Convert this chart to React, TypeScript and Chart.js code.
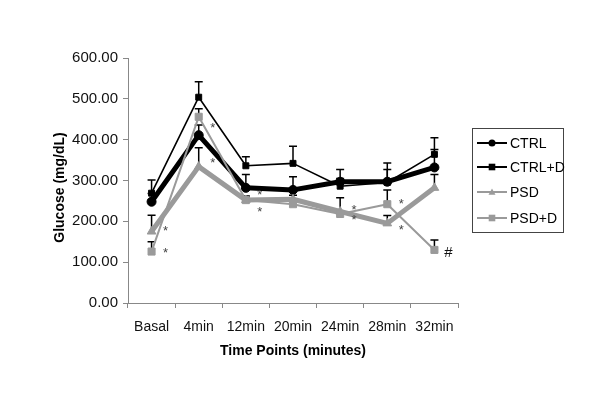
import React, { useEffect, useRef } from 'react';
import { Chart, registerables } from 'chart.js';

Chart.register(...registerables);

const categories = ['Basal', '4min', '12min', '20min', '24min', '28min', '32min'];

const ctrl = [248, 411, 282, 277, 297, 297, 332];
const ctrlErr = [20, 25, 33, 32, 8, 30, 44];
const ctrlD = [269, 504, 336, 342, 286, 295, 364];
const ctrlDErr = [32, 38, 22, 42, 41, 48, 41];
const psd = [175, 334, 252, 254, 224, 195, 282];
const psdErr = [40, 46, 10, 10, 34, 19, 33];
const psdD = [126, 456, 252, 242, 218, 242, 130];
const psdDErr = [24, 20, 8, 8, 8, 35, 24];

const yTicks = [0, 100, 200, 300, 400, 500, 600];

const markCategories = ['Basal', 'Basal', '4min', '4min', '12min', '12min', '24min', '24min', '28min', '28min', '32min'];
const markValues = [184, 132, 438, 350, 272, 230, 235, 211, 250, 186, 125];
const markTexts = ['*', '*', '*', '*', '*', '*', '*', '*', '*', '*', '#'];

const FONT = "Arial, 'Liberation Sans', sans-serif";
const GRAY = '#9a9a9a';

type Series = {
  label: string;
  data: number[];
  err: number[];
  color: string;
  width: number;
  style: 'circle' | 'rect' | 'triangle';
  radius: number;
};

const series: Series[] = [
  { label: 'CTRL', data: ctrl, err: ctrlErr, color: '#000000', width: 5, style: 'circle', radius: 4.5 },
  { label: 'CTRL+D', data: ctrlD, err: ctrlDErr, color: '#000000', width: 1.6, style: 'rect', radius: 4.2 },
  { label: 'PSD', data: psd, err: psdErr, color: GRAY, width: 5, style: 'triangle', radius: 5 },
  { label: 'PSD+D', data: psdD, err: psdDErr, color: GRAY, width: 2, style: 'rect', radius: 5 },
];

function drawMarker(ctx: CanvasRenderingContext2D, style: string, x: number, y: number, r: number, color: string) {
  ctx.save();
  ctx.fillStyle = color;
  ctx.beginPath();
  if (style === 'circle') {
    ctx.arc(x, y, r, 0, Math.PI * 2);
  } else if (style === 'rect') {
    ctx.rect(x - r, y - r, 2 * r, 2 * r);
  } else {
    ctx.moveTo(x, y - r);
    ctx.lineTo(x + r, y + r * 0.8);
    ctx.lineTo(x - r, y + r * 0.8);
    ctx.closePath();
  }
  ctx.fill();
  ctx.restore();
}

const extrasPlugin = {
  id: 'extras',
  beforeDatasetsDraw(chart: any) {
    const ctx: CanvasRenderingContext2D = chart.ctx;
    const xs = chart.scales.x;
    const ys = chart.scales.y;
    ctx.save();
    ctx.strokeStyle = '#000';
    ctx.lineWidth = 1.5;
    series.forEach((s) => {
      s.data.forEach((v, i) => {
        const x = xs.getPixelForValue(i);
        const y0 = ys.getPixelForValue(v);
        const y1 = ys.getPixelForValue(v + s.err[i]);
        ctx.beginPath();
        ctx.moveTo(x, y0);
        ctx.lineTo(x, y1);
        ctx.moveTo(x - 4, y1);
        ctx.lineTo(x + 4, y1);
        ctx.stroke();
      });
    });
    ctx.restore();
  },
  afterDraw(chart: any) {
    const ctx: CanvasRenderingContext2D = chart.ctx;
    const xs = chart.scales.x;
    const ys = chart.scales.y;
    const area = chart.chartArea;

    // significance marks
    ctx.save();
    markTexts.forEach((t, i) => {
      const idx = categories.indexOf(markCategories[i]);
      const x = xs.getPixelForValue(idx) + 14;
      const y = ys.getPixelForValue(markValues[i]);
      const size = t === '*' ? 13 : 15;
      ctx.font = `${size}px ${FONT}`;
      ctx.fillStyle = t === '*' ? '#444' : '#111';
      ctx.textAlign = 'center';
      ctx.textBaseline = 'alphabetic';
      ctx.fillText(t, x, y + (t === '*' ? 0.57 : 0.36) * size);
    });
    ctx.restore();

    // y-axis title
    ctx.save();
    ctx.translate(60, (area.top + area.bottom) / 2 + 7);
    ctx.rotate(-Math.PI / 2);
    ctx.font = `bold 14px ${FONT}`;
    ctx.fillStyle = '#000';
    ctx.textAlign = 'center';
    ctx.textBaseline = 'middle';
    ctx.fillText('Glucose (mg/dL)', 0, 0);
    ctx.restore();

    // legend
    const lx = 472;
    const ly = 128;
    const lw = 91;
    const lh = 104;
    ctx.save();
    ctx.strokeStyle = '#444';
    ctx.lineWidth = 1;
    ctx.strokeRect(lx + 0.5, ly + 0.5, lw, lh);
    const rowY = [143, 167, 192, 218];
    series.forEach((s, i) => {
      const y = rowY[i];
      ctx.strokeStyle = s.color;
      ctx.lineWidth = 2;
      ctx.beginPath();
      ctx.moveTo(477, y);
      ctx.lineTo(507, y);
      ctx.stroke();
      drawMarker(ctx, s.style, 492, y, s.style === 'rect' ? 3.3 : 3.5, s.color);
      ctx.font = `14px ${FONT}`;
      ctx.fillStyle = '#000';
      ctx.textAlign = 'left';
      ctx.textBaseline = 'middle';
      ctx.fillText(s.label, 510, y + 1);
    });
    ctx.restore();
  },
};

export default function App() {
  const ref = useRef<HTMLCanvasElement>(null);

  useEffect(() => {
    const canvas = ref.current;
    if (!canvas) return;
    const n = series.length;
    const chart = new Chart(canvas, {
      type: 'line',
      data: {
        labels: categories,
        datasets: series.map((s, i) => ({
          label: s.label,
          data: s.data,
          borderColor: s.color,
          backgroundColor: s.color,
          borderWidth: s.width,
          borderJoinStyle: 'round' as const,
          pointStyle: s.style,
          pointRadius: s.radius,
          pointBackgroundColor: s.color,
          pointBorderColor: s.color,
          pointBorderWidth: 1,
          tension: 0,
          fill: false,
          order: n - i,
        })),
      },
      options: {
        responsive: false,
        animation: false,
        events: [],
        layout: { padding: { top: 58, right: 142, left: 0, bottom: 0 } },
        plugins: {
          legend: { display: false },
          tooltip: { enabled: false },
          title: { display: false },
        },
        scales: {
          x: {
            type: 'category',
            offset: true,
            grid: {
              offset: true,
              drawOnChartArea: false,
              drawTicks: true,
              tickLength: 5,
              color: '#888',
            },
            border: { display: true, color: '#888', width: 1 },
            ticks: {
              font: { family: FONT, size: 14 },
              color: '#111',
              padding: 11,
              maxRotation: 0,
              autoSkip: false,
            },
            title: {
              display: true,
              text: 'Time Points (minutes)',
              font: { family: FONT, size: 14, weight: 'bold' },
              color: '#000',
              padding: { top: 0, bottom: 44 },
            },
            afterFit: (scale: any) => {
              scale.height = 101;
            },
          },
          y: {
            type: 'linear',
            min: yTicks[0],
            max: yTicks[yTicks.length - 1],
            afterBuildTicks: (scale: any) => {
              scale.ticks = yTicks.map((v) => ({ value: v }));
            },
            grid: {
              drawOnChartArea: false,
              drawTicks: true,
              tickLength: 5,
              color: '#888',
            },
            border: { display: true, color: '#888', width: 1 },
            ticks: {
              font: { family: FONT, size: 15 },
              color: '#111',
              padding: 5,
              callback: (v: any) => Number(v).toFixed(2),
            },
            afterFit: (scale: any) => {
              scale.width = 128;
            },
          },
        },
      },
      plugins: [extrasPlugin],
    });
    return () => chart.destroy();
  }, []);

  return (
    <div style={{ position: 'absolute', left: 0, top: 0, width: 600, height: 404, background: '#fff' }}>
      <canvas ref={ref} width={600} height={404} style={{ display: 'block' }} />
    </div>
  );
}
